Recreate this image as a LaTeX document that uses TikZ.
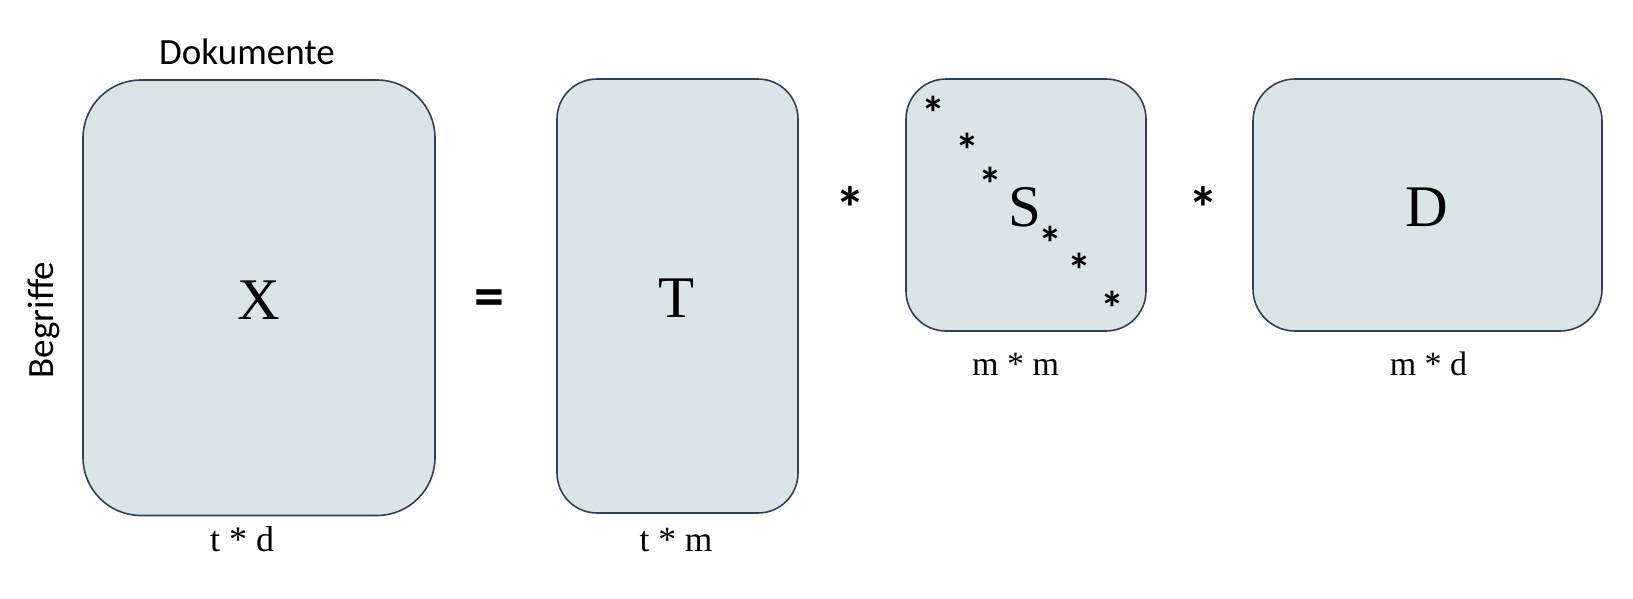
\documentclass[tikz,border=0pt]{standalone}
\usepackage{fontspec}
\setmainfont{Liberation Serif}
\newfontfamily\calib{Carlito}
\definecolor{boxfill}{RGB}{218,229,232}
\definecolor{boxline}{RGB}{47,64,88}
\tikzset{
  matbox/.style={draw=boxline, fill=boxfill, line width=1.6pt, rectangle, inner sep=0pt},
  bigletter/.style={inner sep=0pt, font=\fontsize{59}{60}\selectfont},
  dimlabel/.style={inner sep=0pt, anchor=base, font=\fontsize{34}{35}\selectfont},
  smallstar/.style={inner sep=0pt, anchor=north, font=\calib\bfseries\fontsize{48}{50}\selectfont},
  opsym/.style={inner sep=0pt, anchor=north, font=\calib\bfseries\fontsize{60}{62}\selectfont},
  axislabel/.style={inner sep=0pt, anchor=base, font=\calib\fontsize{37}{38}\selectfont}
}
\begin{document}
\begin{tikzpicture}[x=1pt,y=-1pt]
\useasboundingbox (0,0) rectangle (1633,598);
% boxes
\node[matbox, minimum width=352pt, minimum height=435.5pt, rounded corners=58pt] (bX) at (259,297.75) {};
\node[matbox, minimum width=241pt, minimum height=434pt, rounded corners=40pt] (bT) at (677.5,296) {};
\node[matbox, minimum width=240pt, minimum height=252pt, rounded corners=40pt] (bS) at (1026,205) {};
\node[matbox, minimum width=349pt, minimum height=252pt, rounded corners=42pt] (bD) at (1427.5,205) {};
% letters
\node[bigletter] (lX) at (259,300.3) {X};
\node[bigletter] (lT) at (677,298.5) {T};
\node[bigletter] (lS) at (1024.5,207.5) {S};
\node[bigletter] (lD) at (1427,207) {D};
% operators
\node[opsym] (eq) at (489.5,290) {=};
\node[opsym] (op1) at (850,186) {*};
\node[opsym] (op2) at (1203,186) {*};
% diagonal stars
\node[smallstar] (s1) at (933,96) {*};
\node[smallstar] (s2) at (967,133) {*};
\node[smallstar] (s3) at (990,167) {*};
\node[smallstar] (s4) at (1050,226) {*};
\node[smallstar] (s5) at (1079,253) {*};
\node[smallstar] (s6) at (1112,291) {*};
% dimension labels
\node[dimlabel, font=\fontsize{36}{37}\selectfont] (dX) at (242,551) {t * d};
\node[dimlabel, font=\fontsize{35.5}{36}\selectfont] (dT) at (676,551) {t * m};
\node[dimlabel] (dS) at (1015.5,375) {m * m};
\node[dimlabel] (dD) at (1428.5,375) {m * d};
% axis labels
\node[axislabel] (dok) at (247,64) {Dokumente};
\node[axislabel, rotate=90] (beg) at (53,320) {Begriffe};
\end{tikzpicture}
\end{document}
